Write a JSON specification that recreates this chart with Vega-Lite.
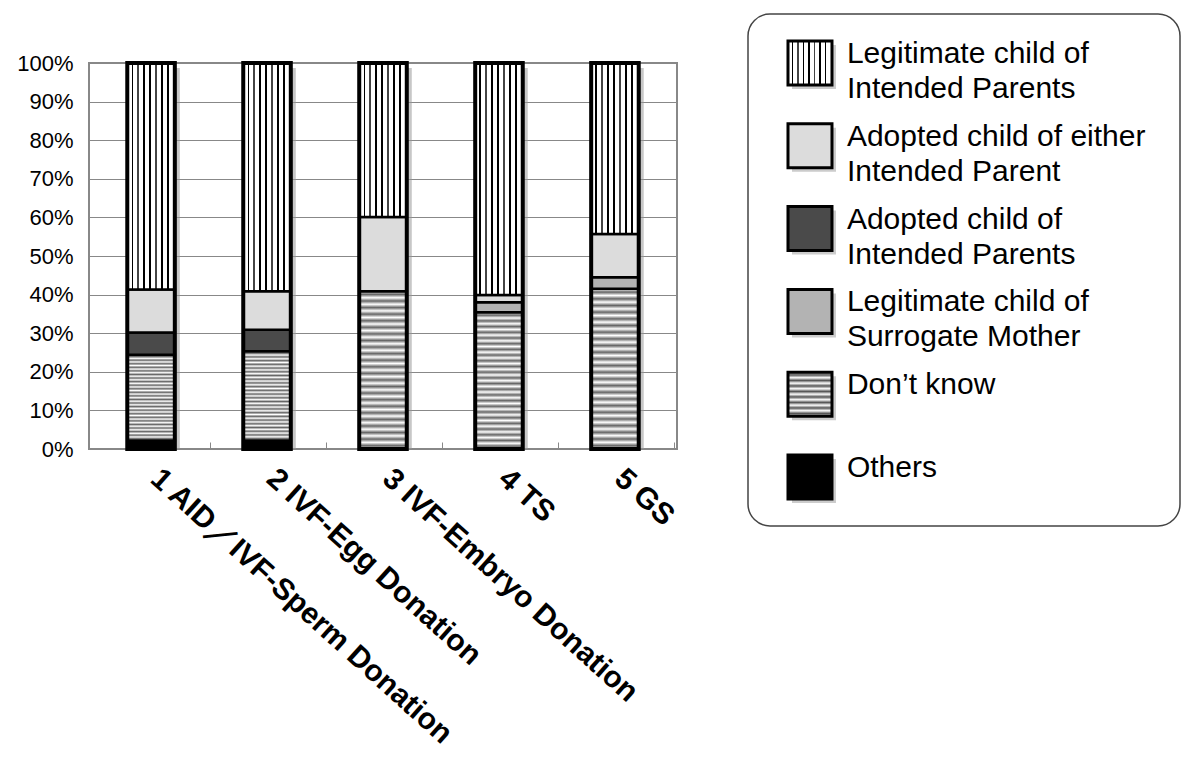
{
  "$schema": "https://vega.github.io/schema/vega-lite/v6.json",
  "width": 588,
  "height": 386,
  "autosize": {"type": "none"},
  "padding": {"left": 89, "top": 63, "right": 523, "bottom": 315},
  "background": "white",
  "config": {
    "font": "Liberation Sans",
    "view": {"stroke": "#888", "strokeWidth": 2},
    "axis": {"labelColor": "black"},
    "axisY": {"title": null, "values": [0,10,20,30,40,50,60,70,80,90,100], "labelOverlap": false, "labelFontSize": 22, "labelPadding": 16, "ticks": false, "domain": false, "grid": true, "gridColor": "#888", "gridWidth": 1}
  },
  "datasets": {
    "bars": [
      {"cat": "1 AID／IVF-Sperm Donation", "group": "Others", "k": 1, "value": 2.2},
      {"cat": "1 AID／IVF-Sperm Donation", "group": "Don’t know", "k": 2, "value": 22.2},
      {"cat": "1 AID／IVF-Sperm Donation", "group": "Adopted child of Intended Parents", "k": 4, "value": 5.8},
      {"cat": "1 AID／IVF-Sperm Donation", "group": "Adopted child of either Intended Parent", "k": 5, "value": 11.1},
      {"cat": "1 AID／IVF-Sperm Donation", "group": "Legitimate child of Intended Parents", "k": 6, "value": 58.7},
      {"cat": "2 IVF-Egg Donation", "group": "Others", "k": 1, "value": 2.2},
      {"cat": "2 IVF-Egg Donation", "group": "Don’t know", "k": 2, "value": 23.1},
      {"cat": "2 IVF-Egg Donation", "group": "Adopted child of Intended Parents", "k": 4, "value": 5.6},
      {"cat": "2 IVF-Egg Donation", "group": "Adopted child of either Intended Parent", "k": 5, "value": 10.0},
      {"cat": "2 IVF-Egg Donation", "group": "Legitimate child of Intended Parents", "k": 6, "value": 59.1},
      {"cat": "3 IVF-Embryo Donation", "group": "Don’t know", "k": 2, "value": 40.9},
      {"cat": "3 IVF-Embryo Donation", "group": "Adopted child of either Intended Parent", "k": 5, "value": 19.2},
      {"cat": "3 IVF-Embryo Donation", "group": "Legitimate child of Intended Parents", "k": 6, "value": 39.9},
      {"cat": "4 TS", "group": "Don’t know", "k": 2, "value": 35.4},
      {"cat": "4 TS", "group": "Legitimate child of Surrogate Mother", "k": 3, "value": 2.6},
      {"cat": "4 TS", "group": "Adopted child of either Intended Parent", "k": 5, "value": 1.9},
      {"cat": "4 TS", "group": "Legitimate child of Intended Parents", "k": 6, "value": 60.1},
      {"cat": "5 GS", "group": "Don’t know", "k": 2, "value": 41.5},
      {"cat": "5 GS", "group": "Legitimate child of Surrogate Mother", "k": 3, "value": 3.0},
      {"cat": "5 GS", "group": "Adopted child of either Intended Parent", "k": 5, "value": 11.2},
      {"cat": "5 GS", "group": "Legitimate child of Intended Parents", "k": 6, "value": 44.3}
    ],
    "legend": [
      {"group": "Legitimate child of Intended Parents", "label": "Legitimate child of\nIntended Parents"},
      {"group": "Adopted child of either Intended Parent", "label": "Adopted child of either\nIntended Parent"},
      {"group": "Adopted child of Intended Parents", "label": "Adopted child of\nIntended Parents"},
      {"group": "Legitimate child of Surrogate Mother", "label": "Legitimate child of\nSurrogate Mother"},
      {"group": "Don’t know", "label": "Don’t know"},
      {"group": "Others", "label": "Others"}
    ]
  },
  "layer": [
    {
      "data": {"name": "bars"},
      "encoding": {
        "x": {
          "field": "cat",
          "type": "nominal",
          "sort": null,
          "scale": {"paddingInner": 0.59, "paddingOuter": 0.33},
          "axis": {
            "title": null,
            "labelAngle": 42,
            "labelFontSize": 30,
            "labelFontWeight": "bold",
            "labelLimit": 0,
            "labelPadding": 21,
            "bandPosition": 1.75,
            "labelOffset": 14,
            "ticks": true,
            "tickSize": -7,
            "tickColor": "#888",
            "tickWidth": 1,
            "domain": false,
            "grid": false
          }
        }
      },
      "layer": [
        {
          "mark": {"type": "bar", "xOffset": 5, "yOffset": 5, "color": "#999", "opacity": 0.55},
          "encoding": {
            "y": {"aggregate": "sum", "field": "value", "type": "quantitative", "scale": {"domain": [0, 100], "nice": false}, "axis": {"labelExpr": "datum.value + '%'"}}
          }
        },
        {
          "mark": {"type": "bar", "stroke": "black", "strokeWidth": 2.5},
          "encoding": {
            "y": {"field": "value", "type": "quantitative", "stack": "zero", "scale": {"domain": [0, 100], "nice": false}, "axis": {"labelExpr": "datum.value + '%'"}},
            "order": {"field": "k", "type": "quantitative"},
            "fill": {
              "field": "group",
              "type": "nominal",
              "legend": null,
              "scale": {
                "domain": ["Legitimate child of Intended Parents", "Adopted child of either Intended Parent", "Adopted child of Intended Parents", "Legitimate child of Surrogate Mother", "Don’t know", "Others"],
                "range": ["#eeeeee", "#dcdcdc", "#4a4a4a", "#b3b3b3", "#bbbbbb", "#000000"]
              },
              "condition": [
                {"test": "datum.group === 'Legitimate child of Intended Parents'", "value": {"gradient": "linear", "x1": 0, "y1": 0, "x2": 1, "y2": 0, "stops": [
                  {"offset": 0, "color": "white"}, {"offset": 0.09, "color": "white"}, {"offset": 0.09, "color": "black"}, {"offset": 0.125, "color": "black"},
                  {"offset": 0.125, "color": "white"}, {"offset": 0.215, "color": "white"}, {"offset": 0.215, "color": "#444"}, {"offset": 0.25, "color": "#444"},
                  {"offset": 0.25, "color": "white"}, {"offset": 0.34, "color": "white"}, {"offset": 0.34, "color": "black"}, {"offset": 0.375, "color": "black"},
                  {"offset": 0.375, "color": "white"}, {"offset": 0.465, "color": "white"}, {"offset": 0.465, "color": "black"}, {"offset": 0.5, "color": "black"},
                  {"offset": 0.5, "color": "white"}, {"offset": 0.59, "color": "white"}, {"offset": 0.59, "color": "#444"}, {"offset": 0.625, "color": "#444"},
                  {"offset": 0.625, "color": "white"}, {"offset": 0.715, "color": "white"}, {"offset": 0.715, "color": "black"}, {"offset": 0.75, "color": "black"},
                  {"offset": 0.75, "color": "white"}, {"offset": 0.84, "color": "white"}, {"offset": 0.84, "color": "black"}, {"offset": 0.875, "color": "black"},
                  {"offset": 0.875, "color": "white"}, {"offset": 1, "color": "white"}
                ]}},
                {"test": "datum.group === 'Don’t know'", "value": {"gradient": "linear", "x1": 0, "y1": 0, "x2": 0, "y2": 1, "stops": [
                  {"offset": 0, "color": "white"}, {"offset": 0.0208, "color": "#666"}, {"offset": 0.0417, "color": "white"}, {"offset": 0.0625, "color": "#666"},
                  {"offset": 0.0833, "color": "white"}, {"offset": 0.1042, "color": "#666"}, {"offset": 0.125, "color": "white"}, {"offset": 0.1458, "color": "#666"},
                  {"offset": 0.1667, "color": "white"}, {"offset": 0.1875, "color": "#666"}, {"offset": 0.2083, "color": "white"}, {"offset": 0.2292, "color": "#666"},
                  {"offset": 0.25, "color": "white"}, {"offset": 0.2708, "color": "#666"}, {"offset": 0.2917, "color": "white"}, {"offset": 0.3125, "color": "#666"},
                  {"offset": 0.3333, "color": "white"}, {"offset": 0.3542, "color": "#666"}, {"offset": 0.375, "color": "white"}, {"offset": 0.3958, "color": "#666"},
                  {"offset": 0.4167, "color": "white"}, {"offset": 0.4375, "color": "#666"}, {"offset": 0.4583, "color": "white"}, {"offset": 0.4792, "color": "#666"},
                  {"offset": 0.5, "color": "white"}, {"offset": 0.5208, "color": "#666"}, {"offset": 0.5417, "color": "white"}, {"offset": 0.5625, "color": "#666"},
                  {"offset": 0.5833, "color": "white"}, {"offset": 0.6042, "color": "#666"}, {"offset": 0.625, "color": "white"}, {"offset": 0.6458, "color": "#666"},
                  {"offset": 0.6667, "color": "white"}, {"offset": 0.6875, "color": "#666"}, {"offset": 0.7083, "color": "white"}, {"offset": 0.7292, "color": "#666"},
                  {"offset": 0.75, "color": "white"}, {"offset": 0.7708, "color": "#666"}, {"offset": 0.7917, "color": "white"}, {"offset": 0.8125, "color": "#666"},
                  {"offset": 0.8333, "color": "white"}, {"offset": 0.8542, "color": "#666"}, {"offset": 0.875, "color": "white"}, {"offset": 0.8958, "color": "#666"},
                  {"offset": 0.9167, "color": "white"}, {"offset": 0.9375, "color": "#666"}, {"offset": 0.9583, "color": "white"}, {"offset": 0.9792, "color": "#666"},
                  {"offset": 1, "color": "white"}
                ]}}
              ]
            }
          }
        },
        {
          "mark": {"type": "bar", "filled": false, "stroke": "black", "strokeWidth": 4},
          "encoding": {
            "y": {"aggregate": "sum", "field": "value", "type": "quantitative", "scale": {"domain": [0, 100], "nice": false}, "axis": {"labelExpr": "datum.value + '%'"}}
          }
        }
      ]
    },
    {
      "data": {"name": "legend"},
      "layer": [
        {
          "data": {"values": [{"box": 1}]},
          "mark": {"type": "rect", "fill": "white", "stroke": "#444", "strokeWidth": 1.5, "cornerRadius": 22},
          "encoding": {
            "x": {"datum": 0, "type": "quantitative", "scale": {"domain": [0, 1], "range": [659, 1091]}, "axis": null},
            "x2": {"datum": 1},
            "y": {"datum": 0, "type": "quantitative", "scale": {"domain": [0, 1], "range": [-49, 463]}, "axis": null},
            "y2": {"datum": 1}
          }
        },
        {
          "encoding": {
            "x": {"datum": 0.1435, "type": "quantitative", "axis": null},
            "y": {"field": "group", "type": "nominal", "sort": null, "scale": {"type": "point", "padding": 0, "range": [0, 414]}, "axis": null}
          },
          "layer": [
            {
              "mark": {"type": "point", "shape": "square", "size": 1936, "filled": true, "color": "#999", "opacity": 0.5, "xOffset": 4, "yOffset": 4}
            },
            {
              "mark": {"type": "point", "shape": "square", "size": 1936, "filled": true, "opacity": 1, "stroke": "black", "strokeWidth": 3},
              "encoding": {
                "fill": {
                  "condition": [
                    {"test": "datum.group === 'Legitimate child of Intended Parents'", "value": {"gradient": "linear", "x1": 0, "y1": 0, "x2": 1, "y2": 0, "stops": [
                      {"offset": 0, "color": "white"}, {"offset": 0.09, "color": "white"}, {"offset": 0.09, "color": "black"}, {"offset": 0.125, "color": "black"},
                      {"offset": 0.125, "color": "white"}, {"offset": 0.215, "color": "white"}, {"offset": 0.215, "color": "#444"}, {"offset": 0.25, "color": "#444"},
                      {"offset": 0.25, "color": "white"}, {"offset": 0.34, "color": "white"}, {"offset": 0.34, "color": "black"}, {"offset": 0.375, "color": "black"},
                      {"offset": 0.375, "color": "white"}, {"offset": 0.465, "color": "white"}, {"offset": 0.465, "color": "black"}, {"offset": 0.5, "color": "black"},
                      {"offset": 0.5, "color": "white"}, {"offset": 0.59, "color": "white"}, {"offset": 0.59, "color": "#444"}, {"offset": 0.625, "color": "#444"},
                      {"offset": 0.625, "color": "white"}, {"offset": 0.715, "color": "white"}, {"offset": 0.715, "color": "black"}, {"offset": 0.75, "color": "black"},
                      {"offset": 0.75, "color": "white"}, {"offset": 0.84, "color": "white"}, {"offset": 0.84, "color": "black"}, {"offset": 0.875, "color": "black"},
                      {"offset": 0.875, "color": "white"}, {"offset": 1, "color": "white"}
                    ]}},
                    {"test": "datum.group === 'Don’t know'", "value": {"gradient": "linear", "x1": 0, "y1": 0, "x2": 0, "y2": 1, "stops": [
                      {"offset": 0, "color": "white"}, {"offset": 0.0625, "color": "#555"}, {"offset": 0.125, "color": "white"}, {"offset": 0.1875, "color": "#555"},
                      {"offset": 0.25, "color": "white"}, {"offset": 0.3125, "color": "#555"}, {"offset": 0.375, "color": "white"}, {"offset": 0.4375, "color": "#555"},
                      {"offset": 0.5, "color": "white"}, {"offset": 0.5625, "color": "#555"}, {"offset": 0.625, "color": "white"}, {"offset": 0.6875, "color": "#555"},
                      {"offset": 0.75, "color": "white"}, {"offset": 0.8125, "color": "#555"}, {"offset": 0.875, "color": "white"}, {"offset": 0.9375, "color": "#555"},
                      {"offset": 1, "color": "white"}
                    ]}},
                    {"test": "datum.group === 'Adopted child of either Intended Parent'", "value": "#dcdcdc"},
                    {"test": "datum.group === 'Adopted child of Intended Parents'", "value": "#4a4a4a"},
                    {"test": "datum.group === 'Legitimate child of Surrogate Mother'", "value": "#b3b3b3"}
                  ],
                  "value": "#000000"
                }
              }
            },
            {
              "mark": {"type": "text", "align": "left", "baseline": "alphabetic", "fontSize": 30, "lineHeight": 35, "lineBreak": "\n", "color": "black"},
              "encoding": {
                "x": {"datum": 0.229, "type": "quantitative", "axis": null},
                "text": {"field": "label", "type": "nominal"}
              }
            }
          ]
        }
      ],
      "resolve": {"scale": {"y": "independent"}}
    }
  ],
  "resolve": {"scale": {"x": "independent", "y": "independent"}}
}
